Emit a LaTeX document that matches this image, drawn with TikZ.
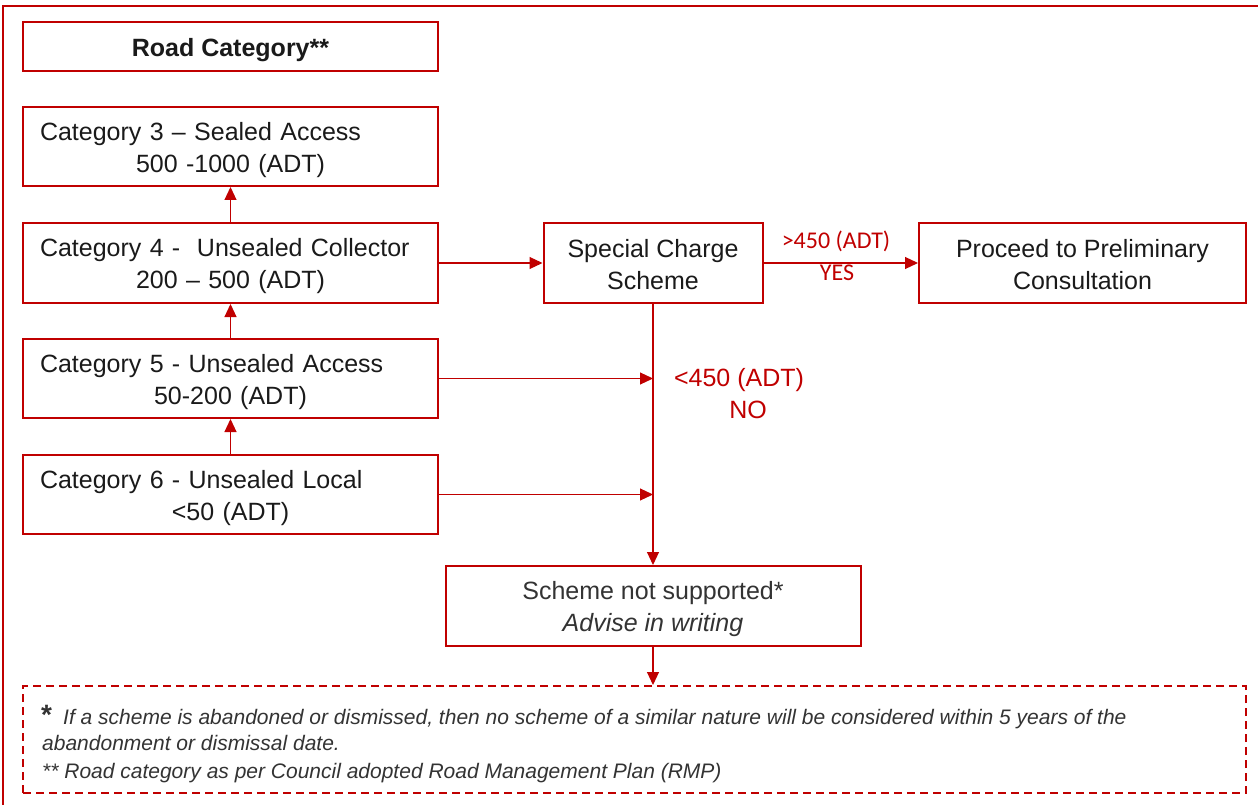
\documentclass[tikz,border=0pt]{standalone}
\usepackage{fontspec}
\setmainfont{Liberation Sans}
\newfontfamily\carlito{Carlito}
\usetikzlibrary{arrows.meta}
\definecolor{rd}{HTML}{C00000}
\definecolor{txt}{HTML}{1A1A1A}
\definecolor{ntxt}{HTML}{333333}
\newcommand\catline[1]{\makebox[381pt][l]{\rule{0pt}{24.5pt}#1}}
\newcommand\tstrut[1]{\rule{0pt}{#1}}
\tikzset{
  box/.style={draw=rd, line width=2pt, inner sep=0pt, align=center, text=txt,
    font=\fontsize{25}{32}\selectfont},
  catbox/.style={box, minimum width=415pt, minimum height=79pt, text width=381pt},
  conn/.style={draw=rd, line width=1.1pt, -{Triangle[length=13pt,width=12pt]}},
  lbl/.style={text=rd, inner sep=0pt, font=\fontsize{25}{30}\selectfont},
  clbl/.style={text=rd, inner sep=0pt, font=\carlito\fontsize{24}{28}\selectfont},
  foot/.style={text=ntxt, inner sep=0pt, anchor=base west, font=\itshape\fontsize{21}{25}\selectfont}
}
\begin{document}
\begin{tikzpicture}[x=1pt,y=-1pt]
\useasboundingbox (0,0) rectangle (1258,805);
% outer frame (partly outside the picture)
\draw[rd, line width=2pt] (3,805) -- (3,6) -- (1258,6);

\node[box, minimum width=415pt, minimum height=49pt, font=\bfseries\fontsize{25}{32}\selectfont] (road) at (230.5,46.5) {\tstrut{26pt}Road Category**};

\node[catbox] (c3) at (230.5,146.5) {\catline{Category 3 – Sealed Access}\\500 -1000 (ADT)};
\node[catbox, minimum height=80pt] (c4) at (230.5,263) {\catline{Category 4 -~ Unsealed Collector}\\200 – 500 (ADT)};
\node[catbox] (c5) at (230.5,378.5) {\catline{Category 5 - Unsealed Access}\\50-200 (ADT)};
\node[catbox] (c6) at (230.5,494.5) {\catline{Category 6 - Unsealed Local}\\<50 (ADT)};

\node[box, minimum width=219pt, minimum height=80pt] (scs) at (653,263) {\tstrut{21pt}Special Charge\\Scheme};
\node[box, minimum width=327pt, minimum height=80pt] (proc) at (1082.5,263) {\tstrut{21pt}Proceed to Preliminary\\Consultation};
\node[box, minimum width=415pt, minimum height=80pt, text=ntxt] (nsup) at (653,606) {\tstrut{25pt}Scheme not supported*\\\textit{Advise in writing}};

\node[draw=rd, line width=2pt, dash pattern=on 8pt off 5pt, minimum width=1223pt, minimum height=107pt, inner sep=0pt] (note) at (634.5,739.5) {};

% connectors
\draw[conn] (c4.north) -- (c3.south);
\draw[conn] (c5.north) -- (c4.south);
\draw[conn] (c6.north) -- (c5.south);
\draw[conn] (c4.east) -- (scs.west);
\draw[conn] (scs.east) -- (proc.west);
\draw[conn] (scs.south) -- (nsup.north);
\coordinate (j5) at (c5.east -| scs.south);
\coordinate (j6) at (c6.east -| scs.south);
\draw[conn] (c5.east) -- (j5);
\draw[conn] (c6.east) -- (j6);
\draw[conn] (nsup.south) -- (nsup.south |- note.north);

% labels
\node[clbl] (gt) at (836,241) {>450 (ADT)};
\node[clbl] (yes) at (837,273) {YES};
\node[lbl] (lt) at (739,380) {<450 (ADT)};
\node[lbl] (no) at (748,410) {NO};

% footnotes
\node[text=ntxt, inner sep=0pt, anchor=base west, font=\bfseries\fontsize{28}{30}\selectfont] (ast) at (41,724) {*};
\node[foot] (f1) at (63,724) {If a scheme is abandoned or dismissed, then no scheme of a similar nature will be considered within 5 years of the};
\node[foot] (f2) at (42,750) {abandonment or dismissal date.};
\node[foot] (f3) at (42,778) {** Road category as per Council adopted Road Management Plan (RMP)};
\end{tikzpicture}
\end{document}
